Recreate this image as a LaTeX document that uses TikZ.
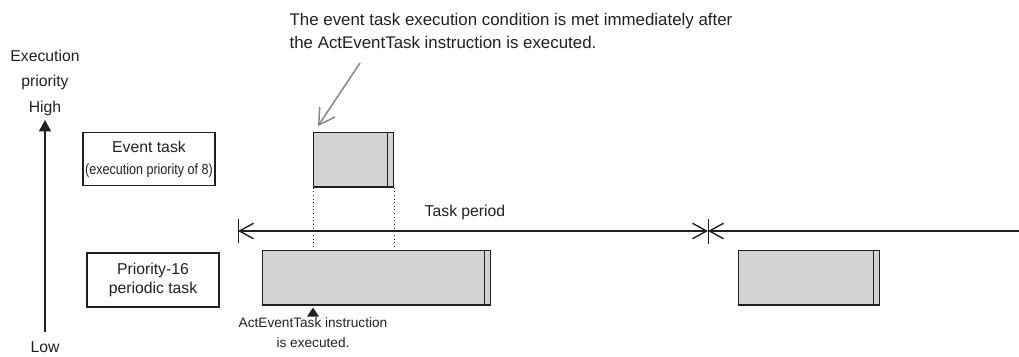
\documentclass[tikz,border=0pt]{standalone}
\usepackage{fontspec}
\usepackage{graphicx}
\setmainfont{Liberation Sans}
\usetikzlibrary{arrows.meta, positioning}
\definecolor{blockgray}{HTML}{D1D3D4}
\definecolor{notegray}{HTML}{808285}
\definecolor{inkgray}{HTML}{231F20}
\tikzset{barb/.tip={Straight Barb[length=10pt, width=11pt]}}

\begin{document}
\begin{tikzpicture}[x=0.025cm, y=-0.025cm, line width=0.8pt, draw=inkgray, text=inkgray,
    labelbox/.style={draw, minimum width=3.3cm, minimum height=1.32cm, align=center, inner sep=1pt},
    runblock/.style={draw, fill=blockgray, anchor=north west, minimum height=1.36cm, inner sep=0pt}
]
    \useasboundingbox (0,0) rectangle (1019,356);

    % Priority axis
    \coordinate (lowend) at (45,332);
    \coordinate (highend) at (45,120);
    \draw[-{Triangle[length=8pt, width=8.5pt]}, line width=1pt] (lowend) -- (highend);
    \node[align=center, font=\fontsize{11.2}{17.8}\selectfont] (axlabel) at (45,70) {Execution\\priority};
    \node[font=\fontsize{11.2}{13}\selectfont] (high) at (45,108) {High};
    \node[font=\fontsize{11.2}{13}\selectfont] (low) at (45,347) {Low};

    % Task labels
    \node[labelbox, font=\fontsize{11.2}{15.6}\selectfont] (evtlbl) at (149,159)
        {Event task\\\scalebox{0.85}[1]{\fontsize{10.5}{15.6}\selectfont (execution priority of 8)}};
    \node[labelbox, font=\fontsize{11.2}{13.5}\selectfont, minimum height=1.35cm] (perlbl) at (153,280)
        {Priority-16\\periodic task};

    % Execution blocks
    \node[runblock, minimum width=2cm] (evt) at (313,132) {};
    \node[runblock, minimum width=5.7cm] (per1) at (262,250) {};
    \node[runblock, minimum width=3.525cm] (per2) at (738,250) {};
    \foreach \b in {evt,per1,per2}
        \draw ([xshift=-0.16cm]\b.north east) -- ([xshift=-0.16cm]\b.south east);

    % Dotted guides
    \draw[dotted, line width=0.6pt] (evt.south west) -- (evt.south west |- per1.north);
    \draw[dotted, line width=0.6pt] (evt.south east) -- (evt.south east |- per1.north);

    % Task period
    \coordinate (pstart) at (238,231);
    \coordinate (pmid) at (708,231);
    \coordinate (pend) at (1019,231);
    \draw[line width=1pt, {barb}-{barb}] (pstart) -- (pmid);
    \draw[line width=1pt, {barb}-] (pmid) -- (pend);
    \draw[line width=0.6pt] ([shift={(0,-12)}]pstart) -- ([shift={(0,12)}]pstart);
    \draw[line width=0.6pt] ([shift={(0,-12)}]pmid) -- ([shift={(0,13)}]pmid);
    \node[font=\fontsize{11.2}{13}\selectfont] (period) at (465,212) {Task period};

    % Instruction marker
    \coordinate (mk) at (evt.south west |- per1.south);
    \fill[inkgray] ([shift={(0,2)}]mk) -- ([shift={(6,11)}]mk) -- ([shift={(-6,11)}]mk) -- cycle;
    \node[align=center, font=\fontsize{9.7}{14.2}\selectfont] (actlbl) at (313,333)
        {ActEventTask instruction\\is executed.};

    % Note
    \node[align=left, font=\fontsize{12}{16.4}\selectfont] (note) at (511,31)
        {The event task execution condition is met immediately after\\the ActEventTask instruction is executed.};
    \coordinate (ptr) at (360,63);
    \draw[notegray, line width=1pt, -{Straight Barb[length=11pt, width=13pt]}] (ptr) -- ([shift={(5,-6)}]evt.north west);
\end{tikzpicture}
\end{document}
